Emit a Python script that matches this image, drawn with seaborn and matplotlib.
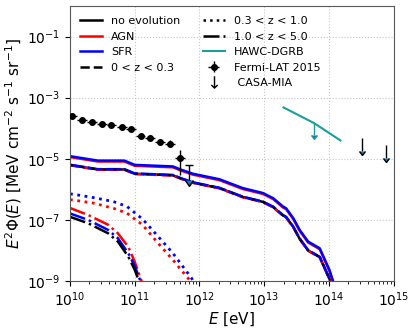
import numpy as np
import pandas as pd
import matplotlib
matplotlib.use("Agg")
import matplotlib.pyplot as plt
from matplotlib.lines import Line2D
from matplotlib.ticker import LogLocator, NullLocator
import seaborn as sns

# ---------------- data (log10 values) ----------------
# total spectra
logE_tot = [10.0, 10.015, 10.43, 10.84, 11.0, 11.59, 11.72, 11.90, 12.31, 12.67, 12.98,
            13.14, 13.29, 13.34, 13.45, 13.55, 13.68, 13.86, 14.01, 14.06, 14.15]
logF_sfr = [-4.91, -4.92, -5.06, -5.06, -5.20, -5.25, -5.36, -5.49, -5.67, -5.96, -6.12,
            -6.29, -6.56, -6.62, -6.94, -7.33, -7.71, -7.93, -8.64, -8.97, -9.60]
logF_agn = [-4.94, -4.95, -5.09, -5.09, -5.23, -5.28, -5.39, -5.52, -5.70, -5.99, -6.15,
            -6.32, -6.59, -6.65, -6.97, -7.36, -7.74, -7.96, -8.67, -9.00, -9.63]
logF_noev = [-5.20, -5.21, -5.35, -5.35, -5.49, -5.54, -5.65, -5.78, -5.96, -6.25, -6.41,
             -6.58, -6.85, -6.91, -7.23, -7.62, -8.00, -8.22, -8.93, -9.26, -9.89]
# 0 < z < 0.3
logF_z03_noev = [-5.20, -5.21, -5.35, -5.35, -5.49, -5.54, -5.65, -5.78, -5.96, -6.25, -6.41,
                 -6.58, -6.85, -6.91, -7.23, -7.62, -8.00, -8.22, -8.93, -9.26, -9.89]
logF_z03_agn = [-5.21, -5.22, -5.36, -5.36, -5.50, -5.55, -5.66, -5.79, -5.97, -6.26, -6.42,
                -6.59, -6.86, -6.92, -7.24, -7.63, -8.01, -8.23, -8.94, -9.27, -9.90]
logF_z03_sfr = [-5.19, -5.20, -5.34, -5.34, -5.48, -5.53, -5.64, -5.77, -5.95, -6.24, -6.40,
                -6.57, -6.84, -6.90, -7.22, -7.61, -7.99, -8.21, -8.92, -9.25, -9.88]
# 0.3 < z < 1.0
logE_dot = [10.0, 10.05, 10.36, 10.67, 10.88, 11.12, 11.34, 11.59, 11.88, 11.95]
logF_dot_sfr = [-6.15, -6.16, -6.27, -6.40, -6.56, -6.97, -7.49, -8.09, -8.91, -9.20]
logF_dot_agn = [-6.34, -6.35, -6.45, -6.62, -6.78, -7.16, -7.71, -8.31, -9.05, -9.30]
# 1.0 < z < 5.0
logE_dd = [10.0, 10.28, 10.59, 10.74, 10.90, 11.0, 11.1, 11.2]
logF_dd_agn = [-6.61, -6.84, -7.16, -7.44, -7.88, -8.37, -8.97, -9.60]
logF_dd_sfr = [-6.79, -7.00, -7.33, -7.60, -8.09, -8.50, -9.07, -9.70]
logF_dd_noev = [-6.90, -7.11, -7.44, -7.71, -8.20, -8.63, -9.20, -9.80]

# Fermi-LAT 2015
fermi_logE = [10.035, 10.19, 10.34, 10.49, 10.64, 10.80, 10.94, 11.09, 11.24, 11.39, 11.55, 11.70]
fermi_logF = [-3.61, -3.74, -3.79, -3.86, -3.88, -3.95, -4.04, -4.27, -4.31, -4.46, -4.50, -4.99]
fermi_hi = [-3.57, -3.70, -3.75, -3.82, -3.84, -3.90, -3.99, -4.21, -4.24, -4.36, -4.39, -4.70]
fermi_lo = [-3.65, -3.78, -3.83, -3.90, -3.92, -4.00, -4.09, -4.33, -4.38, -4.56, -4.61, -5.52]
fermi_ul_logE = [11.84]
fermi_ul_logF = [-5.22]
fermi_ul_tip = [-5.69]
# HAWC-DGRB
hawc_logE = [13.30, 13.77, 14.18]
hawc_logF = [-3.32, -3.83, -4.40]
hawc_ul_logE = [13.77]
hawc_ul_logF = [-3.83]
hawc_ul_tip = [-4.22]
# CASA-MIA upper limits
casa_logE = [14.51, 14.88]
casa_logF = [-4.32, -4.54]
casa_tip = [-4.76, -4.98]

labels_model = ["no evolution", "AGN", "SFR"]
labels_z = ["0 < z < 0.3", "0.3 < z < 1.0", "1.0 < z < 5.0"]

p10 = lambda a: 10 ** np.asarray(a, dtype=float)

# ---------------- figure ----------------
fig = plt.figure(figsize=(4.15, 3.32), dpi=100)
ax = fig.add_axes([70 / 415, 1 - 281 / 332, (393.5 - 70) / 415, (281 - 6) / 332])
ax.set_xscale("log")
ax.set_yscale("log")

lw = 1.8
# dash-dot (1<z<5)
sns.lineplot(x=p10(logE_dd), y=p10(logF_dd_agn), color="red", lw=lw, linestyle="-.", ax=ax, sort=False)
sns.lineplot(x=p10(logE_dd), y=p10(logF_dd_sfr), color="blue", lw=lw, linestyle="-.", ax=ax, sort=False)
sns.lineplot(x=p10(logE_dd), y=p10(logF_dd_noev), color="black", lw=lw, linestyle="-.", ax=ax, sort=False)
# dotted (0.3<z<1)
sns.lineplot(x=p10(logE_dot), y=p10(logF_dot_agn), color="red", lw=2, linestyle=":", ax=ax, sort=False)
sns.lineplot(x=p10(logE_dot), y=p10(logF_dot_sfr), color="blue", lw=2, linestyle=":", ax=ax, sort=False)
# totals
sns.lineplot(x=p10(logE_tot), y=p10(logF_noev), color="black", lw=lw, ax=ax, sort=False)
sns.lineplot(x=p10(logE_tot), y=p10(logF_agn), color="red", lw=lw, ax=ax, sort=False)
sns.lineplot(x=p10(logE_tot), y=p10(logF_sfr), color="blue", lw=lw, ax=ax, sort=False)
# 0<z<0.3
sns.lineplot(x=p10(logE_tot), y=p10(logF_z03_agn), color="red", lw=lw, linestyle="--", ax=ax, sort=False)
sns.lineplot(x=p10(logE_tot), y=p10(logF_z03_sfr), color="blue", lw=lw, linestyle=(0, (6, 1.2)), ax=ax, sort=False)
sns.lineplot(x=p10(logE_tot), y=p10(logF_z03_noev), color="black", lw=lw * 0.8, linestyle=(0, (1.5, 4)), ax=ax, sort=False)

# Fermi-LAT
fE = p10(fermi_logE)
fF = p10(fermi_logF)
fermi = ax.errorbar(fE, fF,
                    xerr=[fE - fE * 10 ** -0.075, fE * 10 ** 0.075 - fE],
                    yerr=[fF - p10(fermi_lo), p10(fermi_hi) - fF],
                    fmt="o", color="black", ms=4, elinewidth=1, capsize=0, zorder=5)
uE = p10(fermi_ul_logE)
uF = p10(fermi_ul_logF)
ax.errorbar(uE, uF, yerr=uF - p10(fermi_ul_tip), uplims=True, fmt="none",
            ecolor="black", elinewidth=1, capsize=3, zorder=5)


def arrows(logE, logF, tip, color):
    E = p10(logE)
    F = p10(logF)
    c = ax.errorbar(E, F, yerr=F - p10(tip), uplims=True, fmt="none",
                    ecolor=color, elinewidth=1, capsize=2, zorder=5)
    # keep only the arrow heads (hide the flat caps at the top)
    caps = c.lines[1]
    if len(caps) > 1:
        caps[1].set_visible(False)
    return c


# HAWC
hawc_color = "#1a9e9a"
sns.lineplot(x=p10(hawc_logE), y=p10(hawc_logF), color=hawc_color, lw=1.5, ax=ax, sort=False)
arrows(hawc_ul_logE, hawc_ul_logF, hawc_ul_tip, hawc_color)

# CASA-MIA
arrows(casa_logE, casa_logF, casa_tip, "black")

# ---------------- axes ----------------
ax.set_xlim(1e10, 1e15)
ax.set_ylim(1e-9, 1e0)
ax.xaxis.set_major_locator(LogLocator(base=10, numticks=10))
ax.xaxis.set_minor_locator(LogLocator(base=10, subs=np.arange(2, 10), numticks=100))
ax.set_yticks([1e-9, 1e-7, 1e-5, 1e-3, 1e-1])
ax.yaxis.set_minor_locator(NullLocator())
ax.tick_params(labelsize=10)
ax.grid(True, which="major", ls=":", color="0.78", lw=0.8)
for s in ax.spines.values():
    s.set_color("0.35")
ax.set_xlabel(r"$E$ [eV]", fontsize=11, labelpad=1)
ax.set_ylabel(r"$E^2\Phi(E)$ [MeV cm$^{-2}$ s$^{-1}$ sr$^{-1}$]", fontsize=11, labelpad=2)

# ---------------- legend ----------------
handles = [
    Line2D([], [], color="black", lw=lw),
    Line2D([], [], color="red", lw=lw),
    Line2D([], [], color="blue", lw=lw),
    Line2D([], [], color="black", lw=lw, ls="--"),
    Line2D([], [], color="none", lw=0),
    Line2D([], [], color="black", lw=lw, ls=":"),
    Line2D([], [], color="black", lw=lw, ls="-."),
    Line2D([], [], color=hawc_color, lw=1.5),
    fermi,
    Line2D([], [], color="black", ls="none", marker=r"$\downarrow$", ms=9, mew=0),
]
labels = labels_model + [labels_z[0], ""] + labels_z[1:] + ["HAWC-DGRB", "Fermi-LAT 2015", " CASA-MIA"]
ax.legend(handles, labels, loc="upper left", ncol=2, frameon=False, fontsize=8)

fig.savefig("out.png", dpi=100)
